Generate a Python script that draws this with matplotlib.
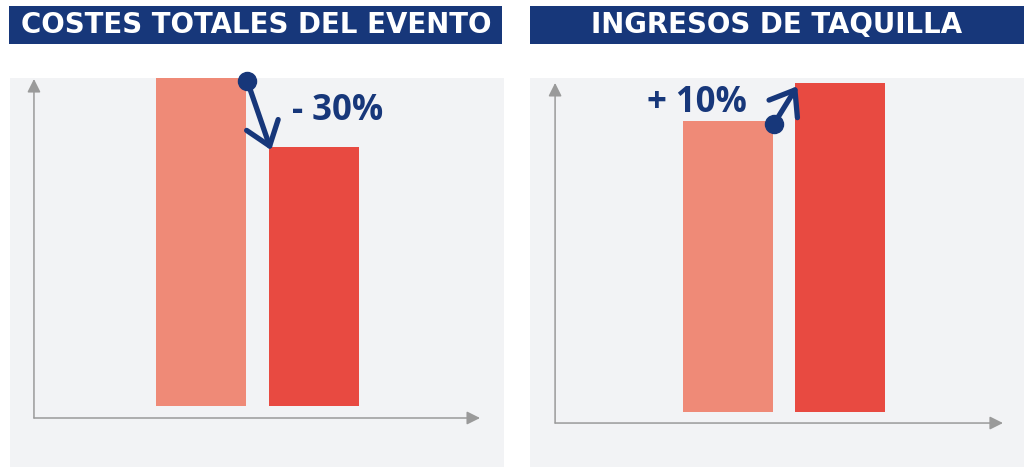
import matplotlib
matplotlib.use('Agg')
import matplotlib.pyplot as plt
from matplotlib.patches import Rectangle

# datos (alturas, unidades relativas)
titulos = ['COSTES TOTALES DEL EVENTO', 'INGRESOS DE TAQUILLA']
etiquetas_cambio = ['- 30%', '+ 10%']
valores_costes = [100, 79]
valores_taquilla = [88.4, 100]

AZUL = '#17377a'
SALMON = '#ef8a77'
ROJO = '#e84a41'
GRIS_FONDO = '#f2f3f5'
GRIS_EJE = '#9a9a9a'
W, H = 1024, 468

fig = plt.figure(figsize=(W / 100, H / 100), dpi=100)
fig.patch.set_facecolor('white')


def rect_px(x0, y0, x1, y1):
    # convierte un rectangulo en pixeles a coordenadas de figura
    return [x0 / W, 1 - y1 / H, (x1 - x0) / W, (y1 - y0) / H]


# cada panel: caja gris, limites, ejes y texto del cambio
paneles = [
    dict(caja=(10, 78, 504, 467), xlim=(-1.69, 2.681), ylim=(-18.6, 100.0),
         eje_x=-1.478, eje_y=-3.66, tope_y=99.7, fin_x=2.469,
         texto=(1.212, 89.9), banner=(9, 6, 502, 44), titulo_x=256,
         valores=valores_costes, etiqueta=etiquetas_cambio[0], titulo=titulos[0]),
    dict(caja=(530, 78, 1024, 467), xlim=(-1.756, 2.636), ylim=(-16.7, 101.5),
         eje_x=-1.533, eje_y=-3.34, tope_y=100.0, fin_x=2.449,
         texto=(-0.271, 93.9), banner=(530, 6, 1024, 44), titulo_x=777,
         valores=valores_taquilla, etiqueta=etiquetas_cambio[1], titulo=titulos[1]),
]

for p in paneles:
    # banner del titulo
    bx0, by0, bx1, by1 = p['banner']
    fig.patches.append(Rectangle((bx0 / W, 1 - by1 / H), (bx1 - bx0) / W, (by1 - by0) / H,
                                 transform=fig.transFigure, facecolor=AZUL, edgecolor='none'))
    fig.text(p['titulo_x'] / W, 1 - 25 / H, p['titulo'], color='white', fontsize=19.9,
             fontweight='bold', family='DejaVu Sans', ha='center', va='center')

    ax = fig.add_axes(rect_px(*p['caja']))
    ax.set_facecolor(GRIS_FONDO)
    for s in ax.spines.values():
        s.set_visible(False)
    ax.set_xticks([])
    ax.set_yticks([])
    ax.set_xlim(*p['xlim'])
    ax.set_ylim(*p['ylim'])

    # barras
    ax.bar([0, 1], p['valores'], width=0.8, color=[SALMON, ROJO], zorder=2)

    # ejes con flecha
    ax.annotate('', xy=(p['eje_x'], p['tope_y']), xytext=(p['eje_x'], p['eje_y']),
                arrowprops=dict(arrowstyle='-|>,head_length=0.8,head_width=0.4',
                                color=GRIS_EJE, lw=1.1, shrinkA=0, shrinkB=0), zorder=1)
    ax.annotate('', xy=(p['fin_x'], p['eje_y']), xytext=(p['eje_x'], p['eje_y']),
                arrowprops=dict(arrowstyle='-|>,head_length=0.8,head_width=0.4',
                                color=GRIS_EJE, lw=1.1, shrinkA=0, shrinkB=0), zorder=1)

    # flecha del cambio entre barras
    v0, v1 = p['valores']
    ax.annotate('', xy=(0.62, v1 - 1), xytext=(0.41, v0 - 1),
                arrowprops=dict(arrowstyle='->,head_length=1.6,head_width=1.2',
                                color=AZUL, lw=3.8, shrinkA=0, shrinkB=0,
                                capstyle='round', joinstyle='round'),
                annotation_clip=False, zorder=4)
    ax.plot([0.41], [v0 - 1], 'o', color=AZUL, markersize=13, zorder=5, clip_on=False)

    ax.text(p['texto'][0], p['texto'][1], p['etiqueta'], color=AZUL, fontsize=25,
            fontweight='bold', family='Open Sans', ha='center', va='center', zorder=5)

fig.savefig('out.png', dpi=100)
